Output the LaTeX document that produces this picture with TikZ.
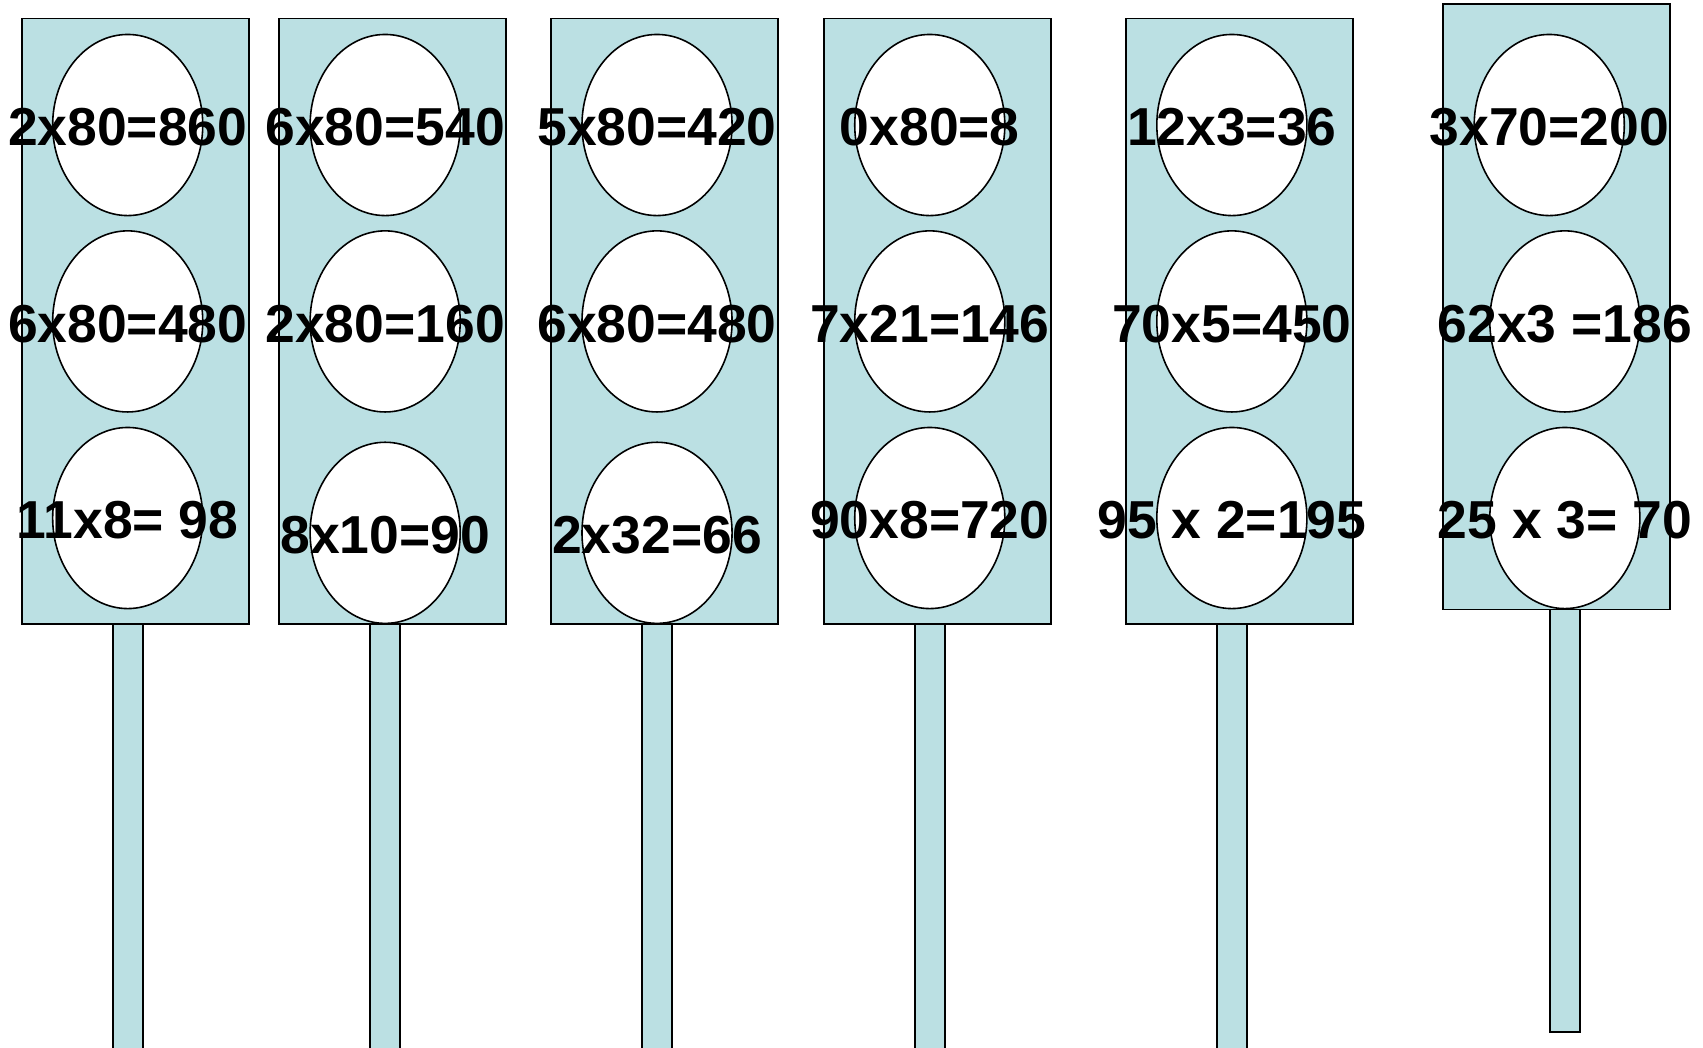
\documentclass[tikz,border=0pt]{standalone}
\usepackage{fontspec}
\setmainfont{Liberation Sans}
\usetikzlibrary{shapes.geometric}
\definecolor{SemaforoAzul}{RGB}{187,224,227}

\begin{document}
\begin{tikzpicture}[x=0.01cm, y=-0.01cm,
	caja/.style={draw=black, line width=0.5pt, fill=SemaforoAzul},
	poste/.style={draw=black, line width=0.45pt, fill=SemaforoAzul},
	luz/.style={ellipse, draw=black, line width=0.45pt, fill=white, minimum width=1.5cm, minimum height=1.81cm, inner sep=0pt},
	cifra/.style={font=\fontsize{15.2pt}{18pt}\selectfont\bfseries, inner sep=0pt, yshift=-0.025cm}]

	\useasboundingbox (0,0) rectangle (1703,1047);

	% ---------- semáforo 1 ----------
	\begin{scope}[xshift=0.217cm]
		\draw[caja] (0,18.5) rectangle (227,624);
		\draw[poste] (91,624) rectangle (121,1060);
		\foreach \i/\y/\t in {1/125/{2x80=860},2/321.4/{6x80=480},3/518/{11x8= 98}}{
			\node[luz] (a\i) at (106,\y) {};
			\node[cifra] (ta\i) at (a\i) {\t};
		}
	\end{scope}

	% ---------- semáforo 2 ----------
	\begin{scope}[xshift=2.79cm]
		\draw[caja] (0,18.5) rectangle (227,624);
		\draw[poste] (91,624) rectangle (121,1060);
		\foreach \i/\y/\t in {1/125/{6x80=540},2/321.4/{2x80=160},3/532.8/{8x10=90}}{
			\node[luz] (b\i) at (106,\y) {};
			\node[cifra] (tb\i) at (b\i) {\t};
		}
	\end{scope}

	% ---------- semáforo 3 ----------
	\begin{scope}[xshift=5.507cm]
		\draw[caja] (0,18.5) rectangle (227,624);
		\draw[poste] (91,624) rectangle (121,1060);
		\foreach \i/\y/\t in {1/125/{5x80=420},2/321.4/{6x80=480},3/532.8/{2x32=66}}{
			\node[luz] (c\i) at (106,\y) {};
			\node[cifra] (tc\i) at (c\i) {\t};
		}
	\end{scope}

	% ---------- semáforo 4 ----------
	\begin{scope}[xshift=8.233cm]
		\draw[caja] (0,18.5) rectangle (227,624);
		\draw[poste] (91,624) rectangle (121,1060);
		\foreach \i/\y/\t in {1/125/{0x80=8},2/321.4/{7x21=146},3/518/{90x8=720}}{
			\node[luz] (d\i) at (106,\y) {};
			\node[cifra] (td\i) at (d\i) {\t};
		}
	\end{scope}

	% ---------- semáforo 5 ----------
	\begin{scope}[xshift=11.252cm]
		\draw[caja] (0,18.5) rectangle (227,624);
		\draw[poste] (91,624) rectangle (121,1060);
		\foreach \i/\y/\t in {1/125/{12x3=36},2/321.4/{70x5=450},3/518/{95 x 2=195}}{
			\node[luz] (e\i) at (106,\y) {};
			\node[cifra] (te\i) at (e\i) {\t};
		}
	\end{scope}

	% ---------- semáforo 6 ----------
	\begin{scope}[xshift=14.424cm]
		\draw[caja] (0,4.3) rectangle (227,609.5);
		\draw[poste] (106.6,609.5) rectangle (136.6,1032);
		\foreach \i/\x/\y/\t in {1/106/125/{3x70=200},2/121.6/321.4/{62x3 =186},3/121.6/518/{25 x 3= 70}}{
			\node[luz] (f\i) at (\x,\y) {};
			\node[cifra] (tf\i) at (f\i) {\t};
		}
	\end{scope}
\end{tikzpicture}
\end{document}
